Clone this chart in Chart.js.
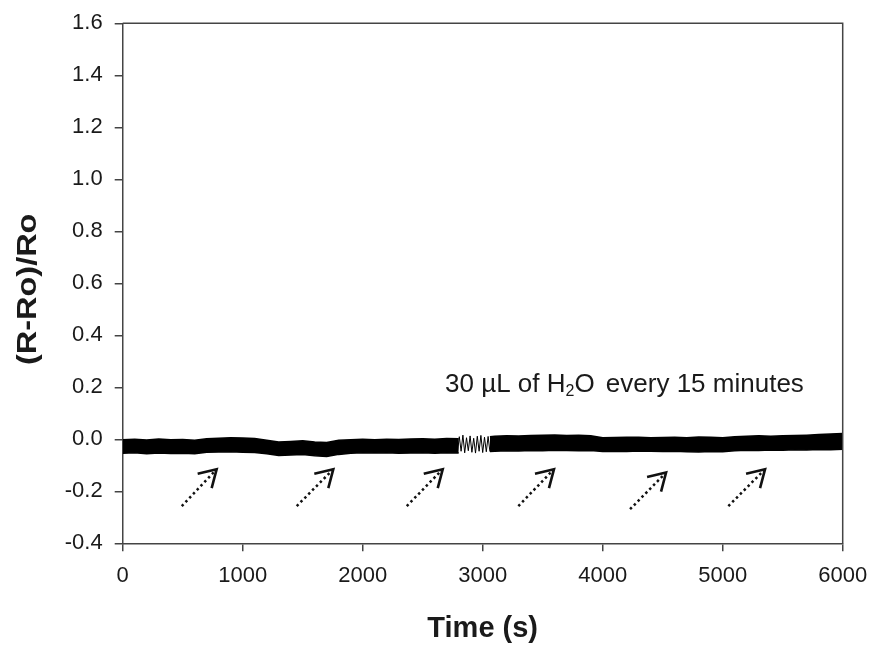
<!DOCTYPE html>
<html>
<head>
<meta charset="utf-8">
<script src="https://cdn.jsdelivr.net/npm/chart.js@4.4.1/dist/chart.umd.min.js"></script>
<style>
  html, body { margin: 0; padding: 0; background: #ffffff; }
  #wrap { width: 875px; height: 646px; }
</style>
</head>
<body>
<div id="wrap"><canvas id="c" width="875" height="646"></canvas></div>
<script>
// ---- data ----
const timeS = [0,100,200,300,400,500,600,700,800,900,1000,1100,1200,1300,1400,1500,1600,1700,1800,1900,2000,2100,2200,2300,2400,2500,2600,2700,2800,
  2930,
  3060,3100,3200,3300,3400,3500,3600,3700,3800,3900,4000,4100,4200,4300,4400,4500,4600,4700,4800,4900,5000,5100,5200,5300,5400,5500,5600,5700,5800,5900,6000];
const upperEnv = [-0.002,0.000,-0.003,0.001,-0.002,-0.001,-0.004,0.002,0.004,0.006,0.005,0.003,-0.004,-0.010,-0.008,-0.006,-0.010,-0.012,-0.004,-0.002,0.000,-0.002,0.000,-0.001,0.001,0.002,0.000,0.003,0.002,
  null,
  0.010,0.012,0.014,0.013,0.015,0.016,0.017,0.015,0.016,0.014,0.006,0.007,0.008,0.008,0.006,0.007,0.008,0.006,0.009,0.008,0.006,0.010,0.012,0.014,0.012,0.014,0.015,0.016,0.018,0.020,0.022];
const lowerEnv = [-0.054,-0.052,-0.056,-0.053,-0.055,-0.054,-0.056,-0.050,-0.049,-0.048,-0.050,-0.051,-0.056,-0.062,-0.060,-0.058,-0.063,-0.066,-0.058,-0.054,-0.052,-0.053,-0.052,-0.054,-0.053,-0.052,-0.054,-0.052,-0.053,
  null,
  -0.047,-0.046,-0.044,-0.045,-0.043,-0.044,-0.042,-0.043,-0.044,-0.043,-0.047,-0.046,-0.047,-0.045,-0.046,-0.047,-0.046,-0.048,-0.049,-0.047,-0.048,-0.044,-0.042,-0.043,-0.041,-0.042,-0.040,-0.041,-0.039,-0.040,-0.038];
const zigTime  = [2790,2805,2820,2835,2850,2865,2880,2895,2910,2925,2940,2955,2970,2985,3000,3015,3030,3045,3060];
const zigValue = [-0.050,0.010,-0.046,0.016,-0.052,0.006,-0.044,0.013,-0.050,0.004,-0.053,0.012,-0.046,0.015,-0.051,0.008,-0.048,0.011,-0.047];

const xTicks = [0,1000,2000,3000,4000,5000,6000];
const xTickLabels = ['0','1000','2000','3000','4000','5000','6000'];
const yTicks = [-0.4,-0.2,0.0,0.2,0.4,0.6,0.8,1.0,1.2,1.4,1.6];
const yTickLabels = ['-0.4','-0.2','0.0','0.2','0.4','0.6','0.8','1.0','1.2','1.4','1.6'];

// injection arrows (time s, value) : tail -> tip
const arrowTailT = [492,1450,2367,3297,4228,5047];
const arrowTailV = [-0.257,-0.257,-0.257,-0.257,-0.269,-0.257];
const arrowTipT  = [783,1755,2667,3594,4528,5353];
const arrowTipV  = [-0.115,-0.115,-0.115,-0.115,-0.128,-0.115];

const noteT = 2686, noteV = 0.183;
const yTitle = '(R-Ro)/Ro';
const xTitle = 'Time (s)';

const FONT = "'Liberation Sans', Arial, Helvetica, sans-serif";
const AXIS = '#444444';
const TXT = '#1a1a1a';

const toXY = (ts, vs) => ts.map((t, i) => ({x: t, y: vs[i]}));

const overlay = {
  id: 'overlay',
  afterDatasetsDraw(chart) {
    const {ctx, chartArea: a, scales: {x, y}} = chart;
    ctx.save();
    // frame top & right
    ctx.strokeStyle = AXIS;
    ctx.lineWidth = 1.5;
    ctx.beginPath();
    ctx.moveTo(a.left, a.top);
    ctx.lineTo(a.right, a.top);
    ctx.lineTo(a.right, a.bottom);
    ctx.stroke();

    // arrows
    for (let i = 0; i < arrowTailT.length; i++) {
      const x0 = x.getPixelForValue(arrowTailT[i]), y0 = y.getPixelForValue(arrowTailV[i]);
      const x1 = x.getPixelForValue(arrowTipT[i]),  y1 = y.getPixelForValue(arrowTipV[i]);
      ctx.strokeStyle = '#111';
      ctx.lineWidth = 2.5;
      ctx.setLineDash([2.5, 3]);
      ctx.lineCap = 'butt';
      ctx.beginPath();
      ctx.moveTo(x0, y0);
      ctx.lineTo(x1 - 2, y1 + 2);
      ctx.stroke();
      ctx.setLineDash([]);
      ctx.lineWidth = 2.6;
      ctx.lineJoin = 'miter';
      ctx.beginPath();
      ctx.moveTo(x1 - 19, y1 + 4.5);
      ctx.lineTo(x1, y1);
      ctx.lineTo(x1 - 5, y1 + 19);
      ctx.stroke();
    }

    // note
    const nx = x.getPixelForValue(noteT), ny = y.getPixelForValue(noteV);
    ctx.fillStyle = TXT;
    ctx.textBaseline = 'alphabetic';
    ctx.textAlign = 'left';
    const big = '26px ' + FONT, small = '16px ' + FONT;
    let cx = nx;
    const parts = [['30 µL of H', big, 0, 0], ['2', small, 4, 0], ['O', big, 0, 4], [' every 15 minutes', big, 0, 0]];
    for (const [s, f, dy, gap] of parts) {
      ctx.font = f;
      ctx.fillText(s, cx, ny + dy);
      cx += ctx.measureText(s).width + gap;
    }

    // y title (rotated)
    ctx.save();
    ctx.translate(28, (a.top + a.bottom) / 2 + 6);
    ctx.rotate(-Math.PI / 2);
    ctx.scale(1.16, 1);
    ctx.font = 'bold 28px ' + FONT;
    ctx.textAlign = 'center';
    ctx.textBaseline = 'middle';
    ctx.fillText(yTitle, 0, 0);
    ctx.restore();
    ctx.restore();
  }
};

new Chart(document.getElementById('c'), {
  type: 'line',
  data: {
    datasets: [
      { data: toXY(timeS, upperEnv), borderColor: '#000', backgroundColor: '#000', borderWidth: 1.5,
        pointRadius: 0, fill: '+1', spanGaps: false, tension: 0 },
      { data: toXY(timeS, lowerEnv), borderColor: '#000', backgroundColor: '#000', borderWidth: 1.5,
        pointRadius: 0, fill: false, spanGaps: false, tension: 0 },
      { data: toXY(zigTime, zigValue), borderColor: '#000', borderWidth: 1,
        pointRadius: 0, fill: false, tension: 0 }
    ]
  },
  options: {
    responsive: false,
    animation: false,
    devicePixelRatio: 1,
    layout: { padding: { left: 0, right: 32.3, top: 23.3, bottom: 0 } },
    plugins: { legend: { display: false }, tooltip: { enabled: false } },
    scales: {
      x: {
        type: 'linear', min: 0, max: 6000,
        afterBuildTicks: s => { s.ticks = xTicks.map(v => ({value: v})); },
        afterFit: s => { s.height = 102.7; s.paddingLeft = 0; s.paddingRight = 0; },
        ticks: { callback: (v) => xTickLabels[xTicks.indexOf(v)], color: TXT, padding: 11,
                 font: { family: FONT, size: 22 }, maxRotation: 0, autoSkip: false },
        grid: { drawOnChartArea: false, drawTicks: true, tickLength: 8, color: AXIS, lineWidth: 1.5 },
        border: { display: true, color: AXIS, width: 1.5 },
        title: { display: true, text: xTitle, color: TXT, padding: { top: 6, bottom: 0 },
                 font: { family: FONT, size: 29, weight: 'bold' } }
      },
      y: {
        type: 'linear', min: -0.4, max: 1.6,
        afterBuildTicks: s => { s.ticks = yTicks.map(v => ({value: v})); },
        afterFit: s => { s.width = 122.7; s.paddingTop = 0; s.paddingBottom = 0; },
        ticks: { callback: (v) => yTickLabels[yTicks.findIndex(t => Math.abs(t - v) < 1e-9)], color: TXT, padding: 12,
                 font: { family: FONT, size: 22 }, autoSkip: false },
        grid: { drawOnChartArea: false, drawTicks: true, tickLength: 8, color: AXIS, lineWidth: 1.5 },
        border: { display: true, color: AXIS, width: 1.5 },
        title: { display: false }
      }
    }
  },
  plugins: [overlay]
});
</script>
</body>
</html>
